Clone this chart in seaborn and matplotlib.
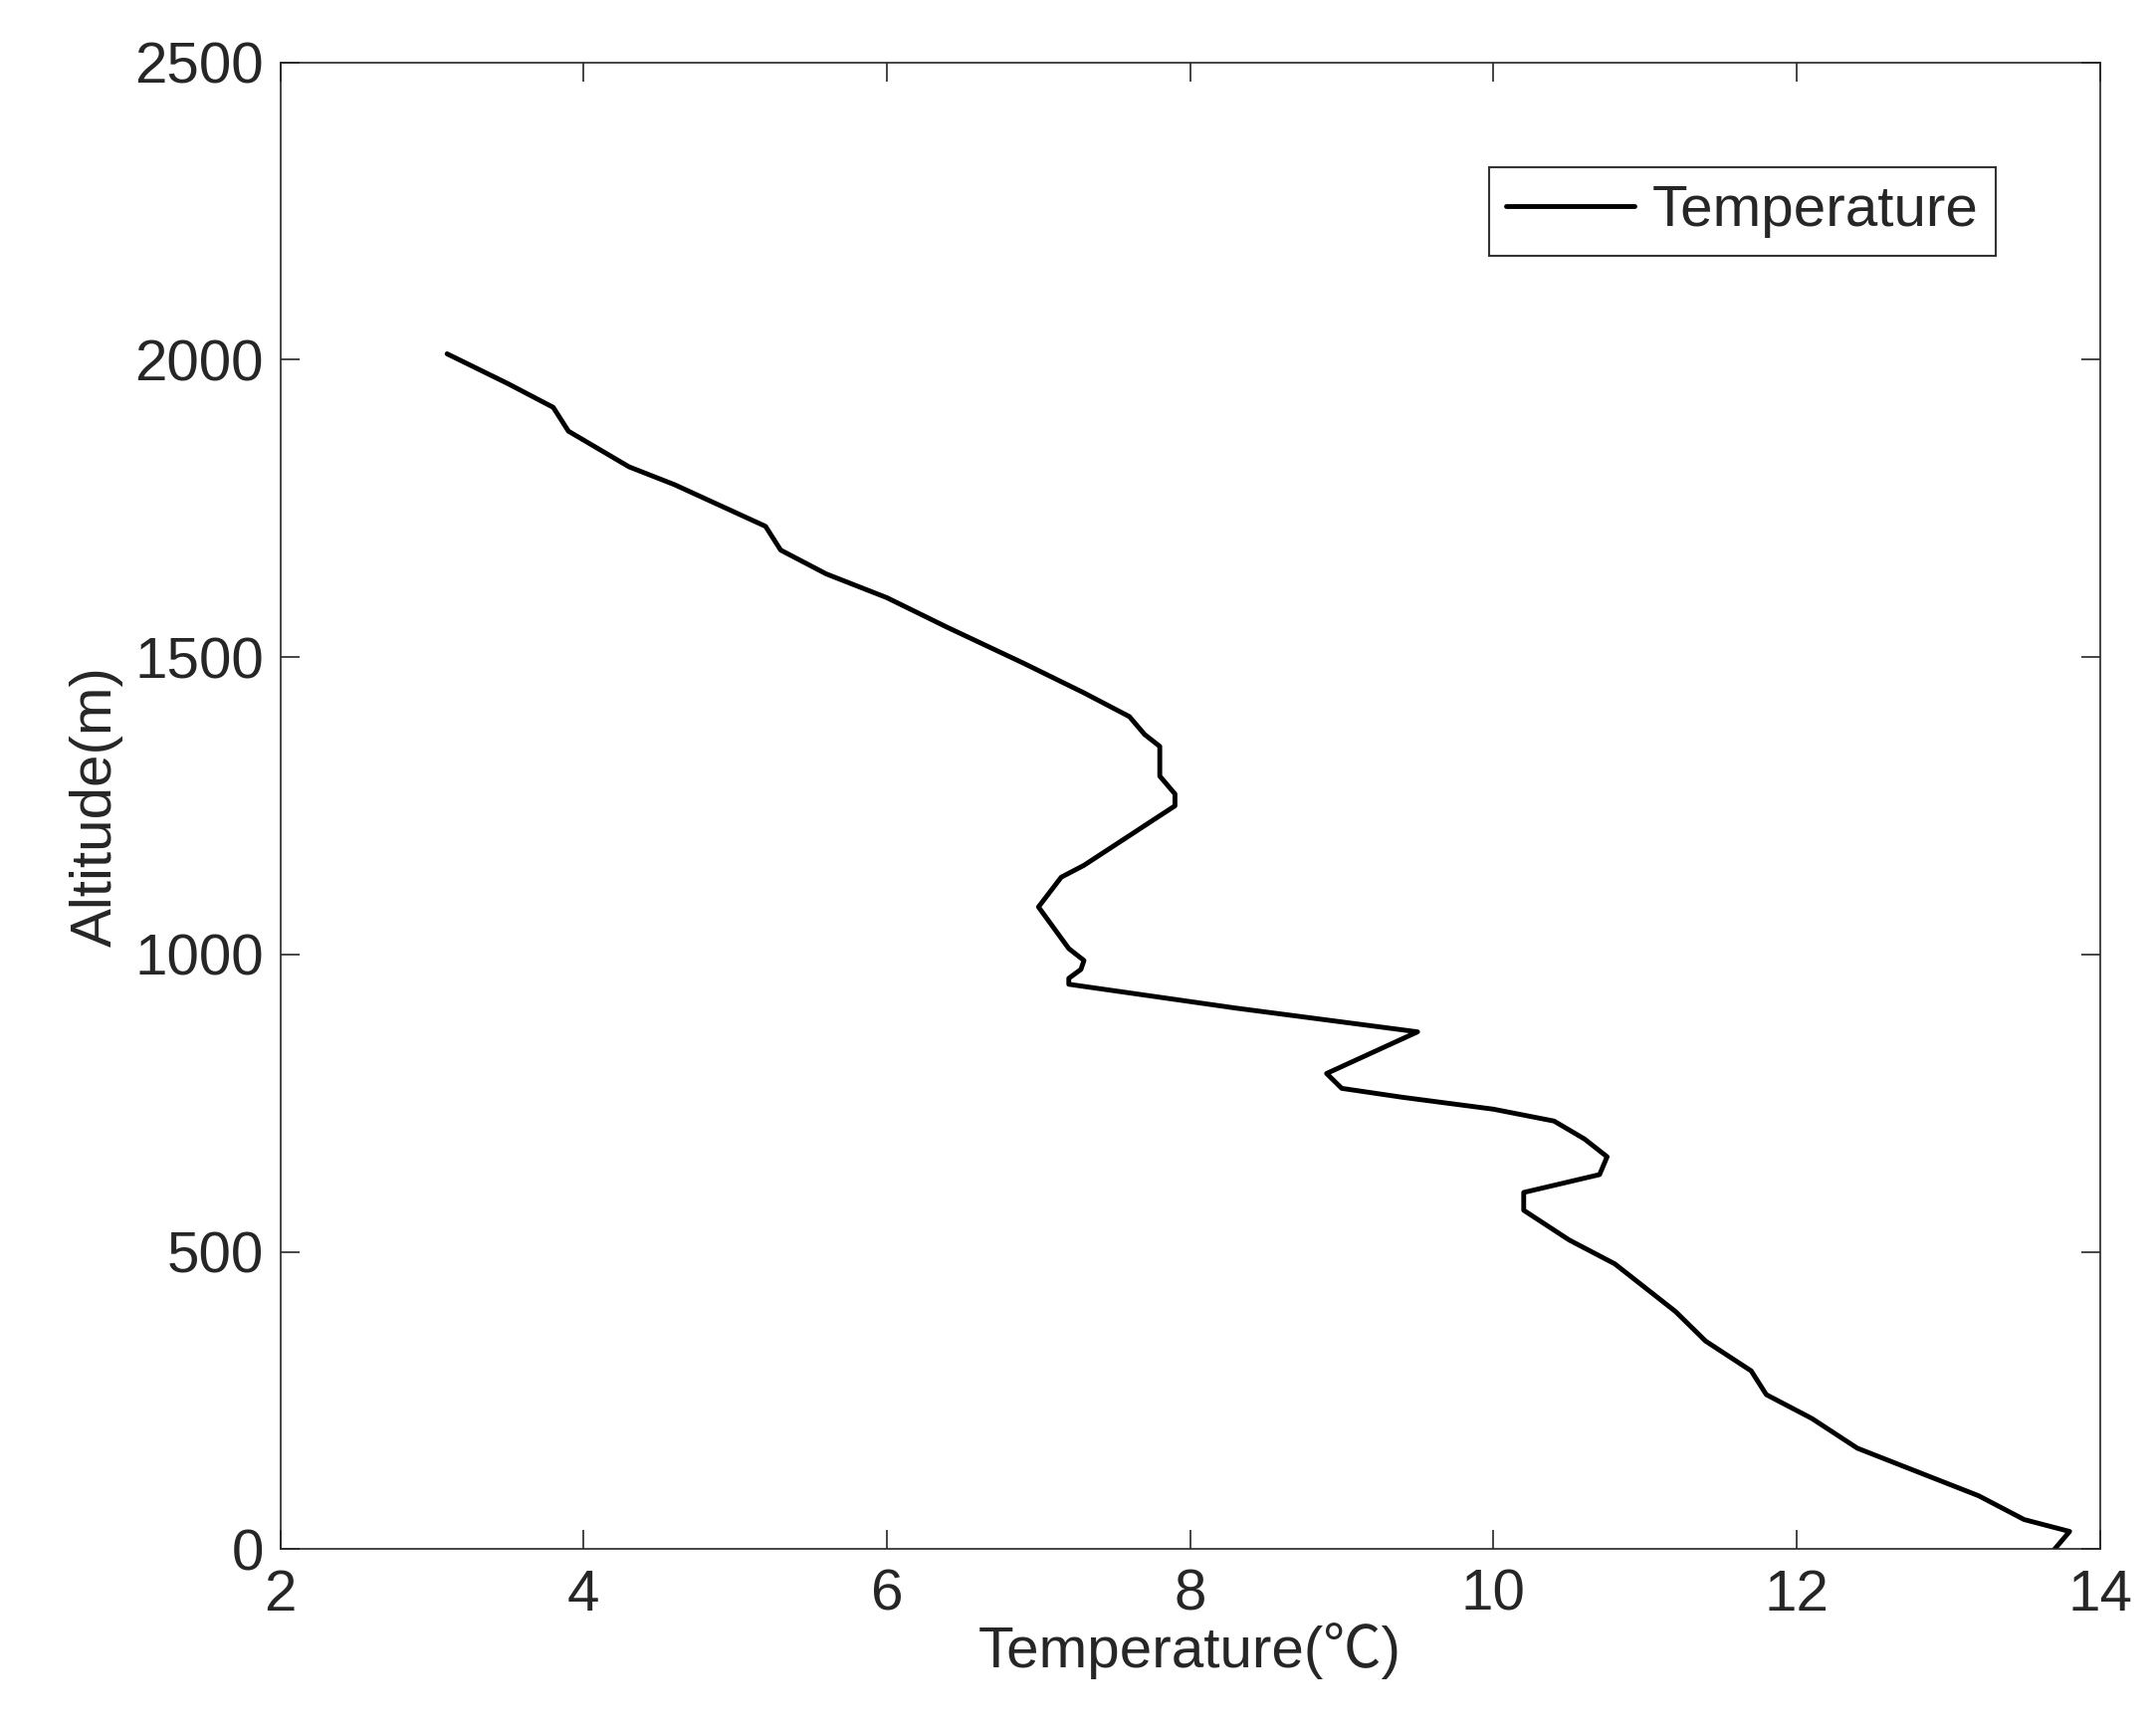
import matplotlib
matplotlib.use("Agg")
import matplotlib.pyplot as plt
import seaborn as sns
import pandas as pd

temperature = [3.1, 3.5, 3.8, 3.9, 4.3, 4.6, 5.2, 5.3, 5.6, 6.0, 6.4, 6.9, 7.3, 7.6, 7.7, 7.8, 7.8, 7.9, 7.9,
               7.6, 7.3, 7.15, 7.0, 7.2, 7.3, 7.28, 7.2, 7.2, 8.3, 9.5, 8.9, 9.0, 9.4, 10.0, 10.4, 10.6,
               10.75, 10.7, 10.2, 10.2, 10.5, 10.8, 11.0, 11.2, 11.4, 11.7, 11.8, 12.1, 12.4, 12.8, 13.2,
               13.5, 13.8, 13.7]
altitude = [2010, 1960, 1920, 1880, 1820, 1790, 1720, 1680, 1640, 1600, 1550, 1490, 1440, 1400, 1370, 1350,
            1300, 1270, 1250, 1200, 1150, 1130, 1080, 1010, 990, 975, 960, 950, 910, 870, 800, 775, 760,
            740, 720, 690, 660, 630, 600, 570, 520, 480, 440, 400, 350, 300, 260, 220, 170, 130, 90, 50,
            30, 0]

sns.set_style("ticks")
plt.rcParams['font.family'] = ['Liberation Sans', 'Noto Sans CJK SC', 'DejaVu Sans']

df = pd.DataFrame({"Temperature": temperature, "Altitude": altitude})
fig = plt.figure(figsize=(21.66, 17.41), dpi=100)
ax = fig.add_axes([0.13, 0.106, 0.844, 0.858])
sns.lineplot(data=df, x="Temperature", y="Altitude", sort=False, estimator=None,
             color="black", linewidth=3.5, ax=ax, label="Temperature")
ax.set_xlim(2, 14)
ax.set_ylim(0, 2500)
ax.set_xticks(range(2, 15, 2))
ax.set_yticks(range(0, 2501, 500))
ax.tick_params(direction="in", top=True, right=True, labelsize=42, length=14, width=1.2)
ax.tick_params(axis="x", pad=14)
ax.tick_params(axis="y", pad=12)
for s in ax.spines.values():
    s.set_linewidth(1.2)
ax.set_xlabel("Temperature(℃)", fontsize=42, labelpad=0)
ax.set_ylabel("Altitude(m)", fontsize=42, labelpad=8)
leg = ax.legend(loc="upper right", fontsize=42, frameon=True, fancybox=False,
                edgecolor="black", handlelength=2.2, handletextpad=0.3,
                borderpad=0.3, borderaxespad=1.8)
leg.get_frame().set_linewidth(1.5)
fig.savefig("out.png", dpi=100)
